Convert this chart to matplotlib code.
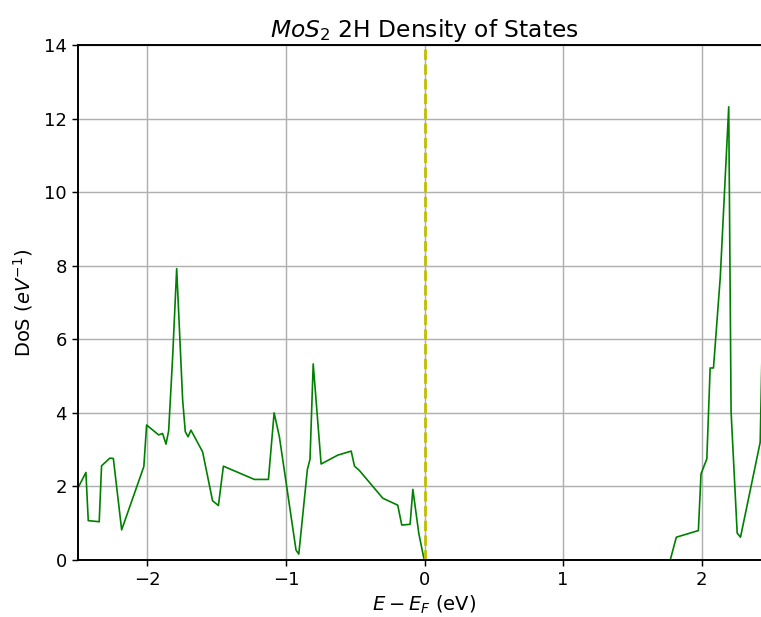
import matplotlib
matplotlib.use("Agg")
import matplotlib.pyplot as plt

energy = [-2.496, -2.443, -2.426, -2.347, -2.330, -2.270, -2.245, -2.185, -2.025, -2.005,
          -1.918, -1.890, -1.865, -1.846, -1.817, -1.788, -1.745, -1.726, -1.706, -1.685,
          -1.601, -1.529, -1.487, -1.451, -1.227, -1.126, -1.085, -1.047, -0.927, -0.907,
          -0.845, -0.826, -0.803, -0.746, -0.626, -0.529, -0.505, -0.469, -0.301, -0.193,
          -0.164, -0.104, -0.084, -0.041, -0.007, 0.0, 1.773,
          1.817, 1.976, 1.995, 2.037, 2.061, 2.085, 2.134, 2.195, 2.212, 2.256, 2.280,
          2.422, 2.434, 2.45]
dos = [1.99, 2.38, 1.07, 1.04, 2.56, 2.77, 2.76, 0.82, 2.54, 3.67,
       3.40, 3.44, 3.15, 3.51, 5.53, 7.92, 4.35, 3.49, 3.35, 3.53,
       2.94, 1.61, 1.48, 2.55, 2.19, 2.19, 4.00, 3.35, 0.27, 0.16,
       2.46, 2.74, 5.33, 2.61, 2.85, 2.96, 2.55, 2.43, 1.68, 1.49,
       0.95, 0.97, 1.92, 0.72, 0.09, 0.0, 0.0,
       0.62, 0.80, 2.34, 2.75, 5.22, 5.22, 7.69, 12.32, 4.03, 0.73, 0.62,
       3.20, 5.40, 6.0]

fermi = 0.0
title = r'$MoS_2$ 2H Density of States'
xlabel = r'$E - E_F$ (eV)'
ylabel = r'DoS ($eV^{-1}$)'

fig = plt.figure(figsize=(7.61, 6.17), dpi=100)
ax = fig.add_axes([78/761, 57/617, 693/761, 515/617])
ax.plot(energy, dos, color='green', linewidth=1.2, zorder=2)
ax.axvline(fermi, color='y', linestyle='--', linewidth=2.0, zorder=2.5)
ax.set_xlim(-2.5, 2.5)
ax.set_ylim(0, 14)
ax.set_xticks([-2, -1, 0, 1, 2])
ax.set_yticks(range(0, 15, 2))
ax.grid(True, linewidth=1.05)
ax.set_axisbelow(True)
for s in ax.spines.values():
    s.set_linewidth(1.4)
    s.set_zorder(3)
ax.tick_params(labelsize=13, width=1.05, length=4.5)
ax.set_title(title, fontsize=16.8, pad=6)
ax.set_xlabel(xlabel, fontsize=14, labelpad=3.5)
ax.set_ylabel(ylabel, fontsize=14, labelpad=6.5)
fig.savefig('out.png', dpi=100)
